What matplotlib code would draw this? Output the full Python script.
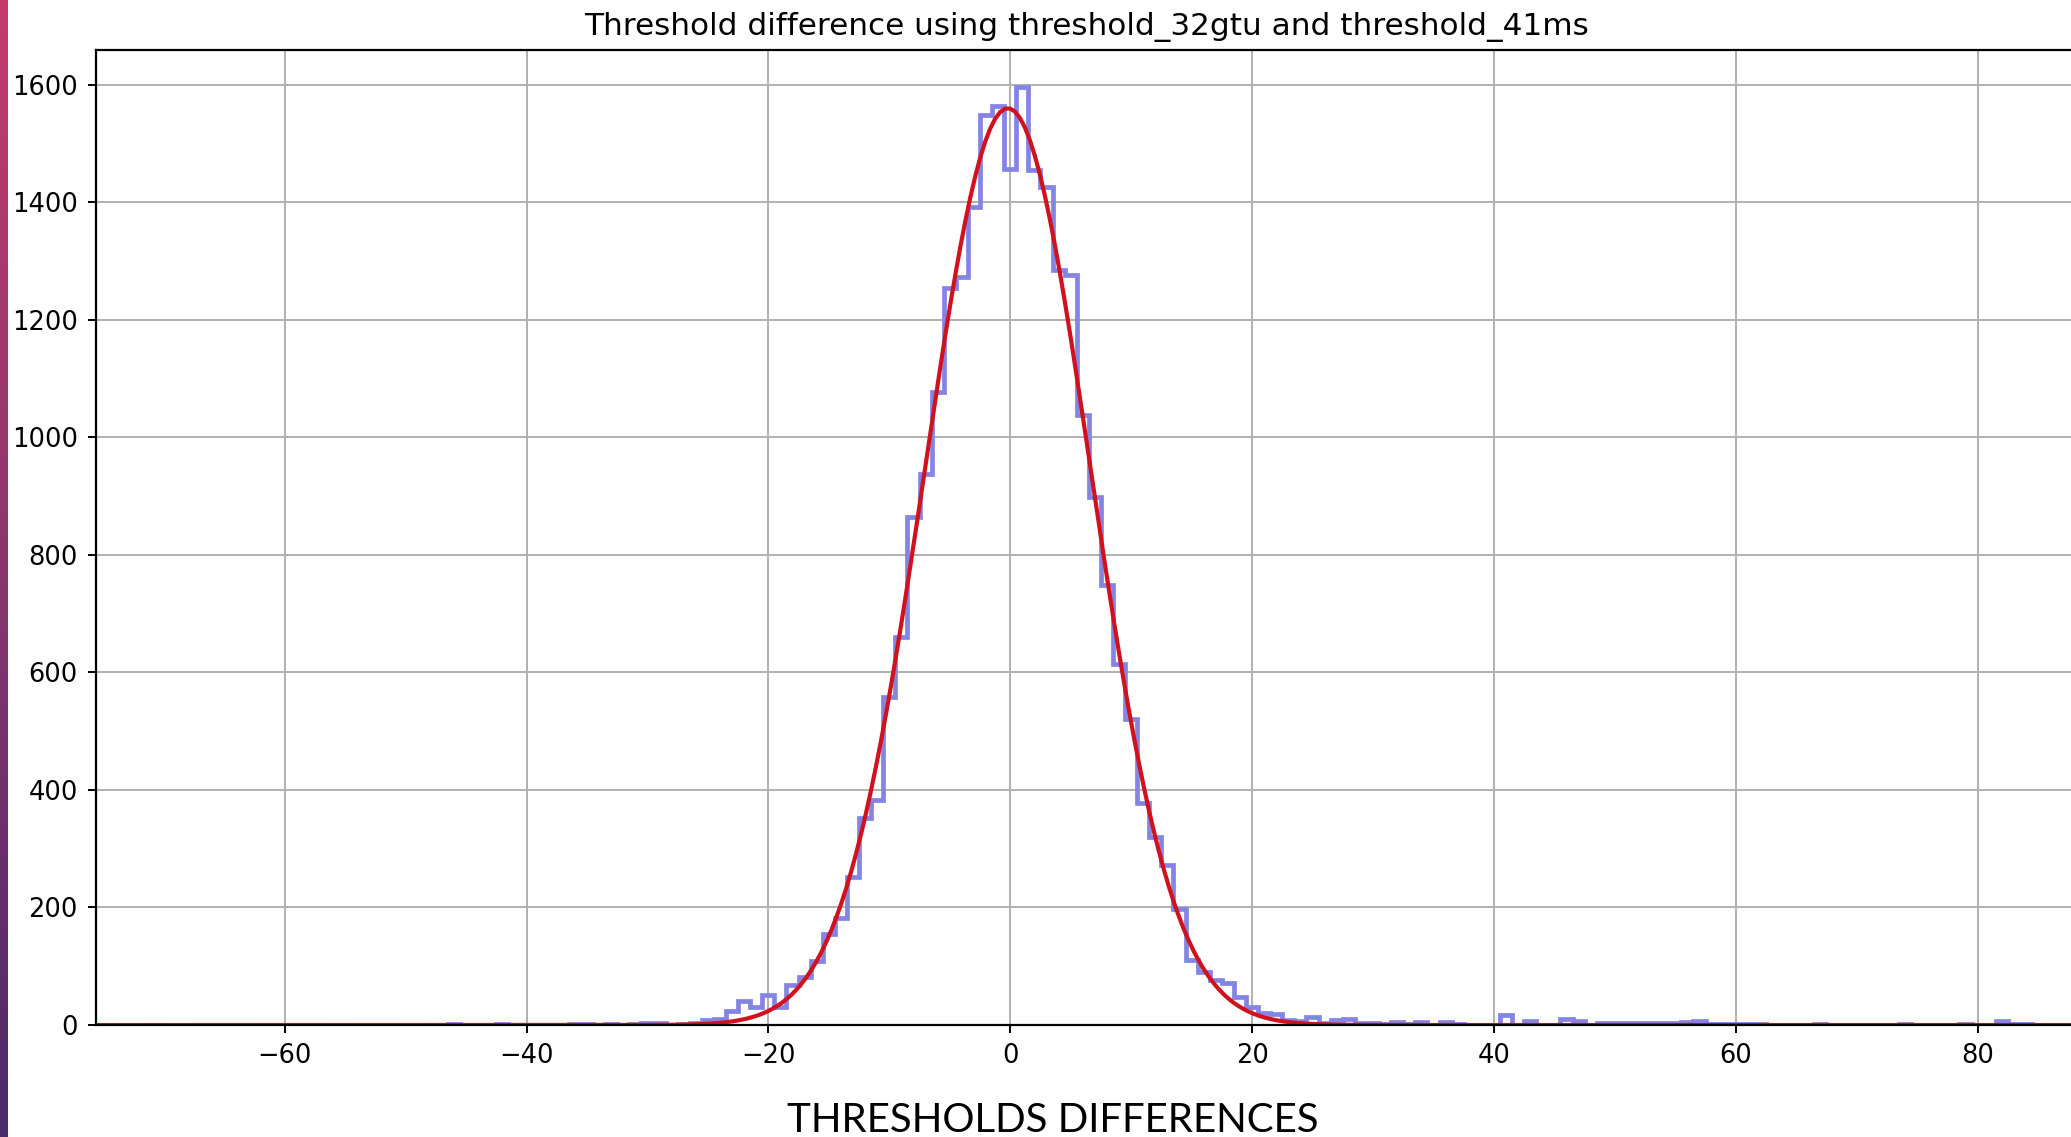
import numpy as np
import matplotlib
matplotlib.use("Agg")
import matplotlib.pyplot as plt
from matplotlib.colors import LinearSegmentedColormap

# histogram counts, 1-unit bins centred on integers
core_centers = np.arange(-25, 31)
core_counts = [8, 10, 23, 40, 31, 51, 31, 68, 81, 109, 155, 182, 252, 352, 383,
               558, 660, 865, 938, 1077, 1254, 1273, 1392, 1548, 1563, 1457,
               1596, 1454, 1426, 1284, 1277, 1038, 899, 748, 615, 520, 377, 320,
               272, 198, 110, 91, 77, 71, 48, 31, 20, 18, 8, 6, 14, 4, 9, 10, 3, 3]

# sparse outliers in the tails
tail_centers = [-46, -42, -36, -35, -33, -31, -30, -29, -27, -26, 31, 32, 33, 34,
                36, 37, 41, 43, 46, 47, 49, 50, 51, 52, 53, 54, 55, 56, 57, 58,
                59, 60, 61, 62, 67, 74, 79, 82, 83, 84]
tail_counts = [2, 2, 2, 2, 2, 2, 3, 3, 2, 3, 1, 5, 1, 5, 5, 1, 17, 6, 10, 6,
               3, 3, 3, 3, 3, 3, 3, 5, 7, 2, 2, 2, 2, 2, 2, 2, 2, 6, 2, 2]

# gaussian fit drawn in red
fit_mu = -0.2
fit_sigma = 6.85
fit_peak = 1560

x_ticks = [-60, -40, -20, 0, 20, 40, 60, 80]
y_ticks = [0, 200, 400, 600, 800, 1000, 1200, 1400, 1600]

title = "Threshold difference using threshold_32gtu and threshold_41ms"
caption = "THRESHOLDS DIFFERENCES"

W, H = 2071, 1137
fig = plt.figure(figsize=(W / 100, H / 100), dpi=100)
fig.patch.set_facecolor("white")

# slide's coloured strip on the left
strip = fig.add_axes([0, 0, 8 / W, 1])
cmap = LinearSegmentedColormap.from_list("strip", ["#c43c6c", "#8a356e", "#4a2a6a"])
strip.imshow(np.linspace(0, 1, 256).reshape(-1, 1), aspect="auto", cmap=cmap)
strip.axis("off")

ax = fig.add_axes([96 / W, 112 / H, 1982 / W, 975 / H])

xlim = (-75.6, 88.3)
centers = np.concatenate([core_centers, tail_centers])
weights = np.concatenate([core_counts, tail_counts])
edges = np.arange(-70.5, 95.5, 1.0)
ax.hist(centers, bins=edges, weights=weights, histtype="step",
        color="#8484e4", linewidth=3.4)

xs = np.linspace(xlim[0], xlim[1], 400)
ys = fit_peak * np.exp(-0.5 * ((xs - fit_mu) / fit_sigma) ** 2)
ax.plot(xs, ys, color="#d0121f", linewidth=3.0)

ax.set_xlim(*xlim)
ax.set_ylim(0, 1659)
ax.set_xticks(x_ticks)
ax.set_yticks(y_ticks)
ax.grid(True, color="#b0b0b0", linewidth=1.4)
ax.tick_params(labelsize=18.5, length=6, width=1.4, pad=7)
for s in ax.spines.values():
    s.set_linewidth(1.6)
ax.set_title(title, fontsize=22.4, pad=11)

fig.text(1053 / W, 1 - 1121 / H, caption, ha="center", va="center",
         fontsize=29, family=["Lato", "DejaVu Sans"])

fig.savefig("out.png", dpi=100)
